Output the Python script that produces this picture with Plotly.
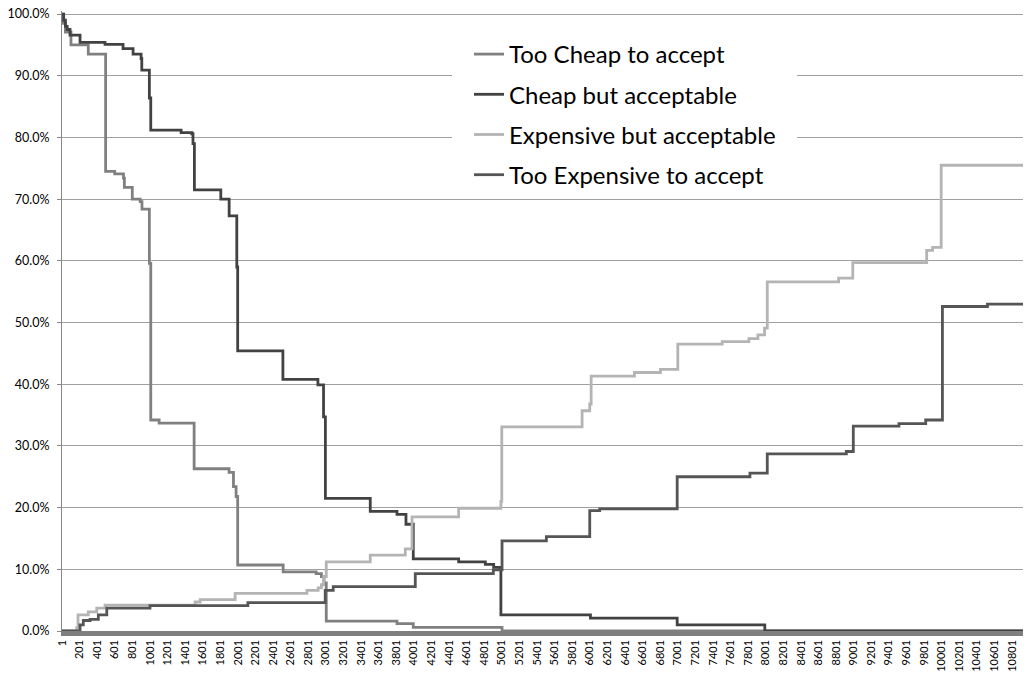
import plotly.graph_objects as go

# ---- data ----
last_category = 10925
tick_labels = [str(v) for v in range(1, 10802, 200)]
y_ticks = [0, 10, 20, 30, 40, 50, 60, 70, 80, 90, 100]

too_cheap_x = [1, 15, 40, 103, 300, 497, 600, 700, 710, 800, 890, 910, 994, 1010, 1105, 1503,
               1900, 1950, 1980, 1998, 2515, 2890, 2950, 2980, 3005, 3809, 3994, 5003]
too_cheap_y = [100, 98.5, 97.1, 95.0, 93.5, 74.5, 74.1, 73.4, 71.9, 70.0, 69.6, 68.4, 59.6, 34.2, 33.7, 26.3,
               25.7, 23.4, 21.8, 10.7, 9.6, 9.3, 8.8, 7.8, 1.6, 1.2, 0.6, 0.0]

cheap_x = [1, 20, 40, 60, 92, 206, 490, 695, 809, 900, 908, 994, 1010, 1355, 1477, 1490, 1506,
           1806, 1901, 1988, 1998, 2512, 2910, 2974, 2995, 3505, 3809, 3911, 3994, 4510, 4813,
           4908, 4990, 6008, 6994, 7990]
cheap_y = [100, 99.0, 98.0, 97.5, 96.6, 95.4, 95.1, 94.4, 93.5, 92.8, 90.9, 86.4, 81.2, 80.8, 80.6, 79.0, 71.5,
           70.0, 67.3, 59.0, 45.4, 40.8, 39.9, 34.7, 21.5, 19.4, 18.9, 17.3, 11.7, 11.2, 10.8,
           10.3, 2.6, 2.1, 1.0, 0.0]

expensive_x = [1, 168, 183, 300, 396, 490, 1514, 1571, 1969, 2785, 2913, 2950, 2975, 3005, 3505,
               3903, 3980, 4510, 4990, 5000, 5913, 6000, 6016, 6508, 6804, 7001, 7506, 7809, 7912,
               7987, 8018, 8829, 8990, 9830, 9898, 9995]
expensive_y = [0, 0.5, 2.6, 3.1, 3.7, 4.2, 4.7, 5.1, 6.1, 6.6, 7.0, 7.5, 8.8, 11.2, 12.3,
               13.3, 18.5, 19.9, 21.0, 33.1, 35.7, 36.8, 41.3, 41.9, 42.4, 46.5, 46.9, 47.4, 48.0,
               49.1, 56.6, 57.2, 59.7, 61.7, 62.2, 75.5]

too_exp_x = [1, 206, 243, 320, 414, 510, 1001, 2114, 2993, 3084, 4017, 4904, 5003, 5507, 6000,
             6113, 6994, 7821, 8018, 8917, 8996, 9515, 9819, 10009, 10521]
too_exp_y = [0, 1.0, 1.7, 1.9, 2.6, 3.7, 4.1, 4.6, 6.6, 7.2, 9.3, 9.9, 14.6, 15.3, 19.5,
             19.8, 25.0, 25.6, 28.7, 29.1, 33.2, 33.6, 34.2, 52.6, 53.0]

series = [
    ("Too Cheap to accept", too_cheap_x, too_cheap_y, "#808080"),
    ("Cheap but acceptable", cheap_x, cheap_y, "#424242"),
    ("Expensive but acceptable", expensive_x, expensive_y, "#b4b4b4"),
    ("Too Expensive to accept", too_exp_x, too_exp_y, "#555555"),
]

# figure geometry (page body margin removed by post_script)
W, H = 1027, 676
ML, MR, MT, MB = 62, 4, 11, 45
PW, PH = W - ML - MR, H - MT - MB


def px_x(fx):
    return (fx - ML) / PW


def px_y(fy):
    return 1 - (fy - MT) / PH


fig = go.Figure()
for i, (name, xs, ys, col) in enumerate(series):
    fig.add_trace(go.Scatter(
        x=xs + [last_category], y=ys + [ys[-1]],
        mode="lines", name=name, line=dict(color=col, width=2.8, shape="hv"),
        legendgroup=f"g{i}",
    ))

fig.update_layout(
    width=W, height=H,
    margin=dict(l=ML, r=MR, t=MT, b=MB, autoexpand=False),
    paper_bgcolor="white", plot_bgcolor="white",
    font=dict(family="Lato, Calibri, sans-serif", color="#000000"),
    showlegend=True,
    hovermode=False,
    legend=dict(
        x=px_x(469), y=px_y(32), xanchor="left", yanchor="top",
        bgcolor="rgba(0,0,0,0)", font=dict(size=24, color="#000000"),
        tracegroupgap=6, itemwidth=30,
    ),
    shapes=[dict(type="rect", xref="paper", yref="paper",
                 x0=px_x(452), x1=px_x(797),
                 y0=px_y(197), y1=px_y(20),
                 fillcolor="white", line=dict(width=0), layer="above")],
)

fig.update_xaxes(
    range=[1, last_category],
    tickmode="array",
    tickvals=[int(t) for t in tick_labels], ticktext=tick_labels,
    tickangle=-90, tickfont=dict(size=11, family="Lato, Calibri, sans-serif"),
    ticklabeloverflow="allow",
    showgrid=False, zeroline=False,
    showline=True, linecolor="#7f7f7f", linewidth=4.5,
    ticks="",
)
fig.update_yaxes(
    range=[0, 100.5],
    tickmode="array",
    tickvals=y_ticks, ticktext=[f"{v:.1f}%" for v in y_ticks],
    tickfont=dict(size=12.5, family="Lato, Calibri, sans-serif"),
    ticklabelstandoff=5, ticklabeloverflow="allow",
    showgrid=True, gridcolor="#a0a0a0", gridwidth=1,
    zeroline=False,
    showline=True, linecolor="#888888", linewidth=1,
    ticks="outside", ticklen=4, tickcolor="#888888",
)

fig.write_html(
    "out.html",
    config={"displayModeBar": False, "staticPlot": True},
    post_script="document.body.style.margin='0';document.body.style.overflow='hidden';",
)
